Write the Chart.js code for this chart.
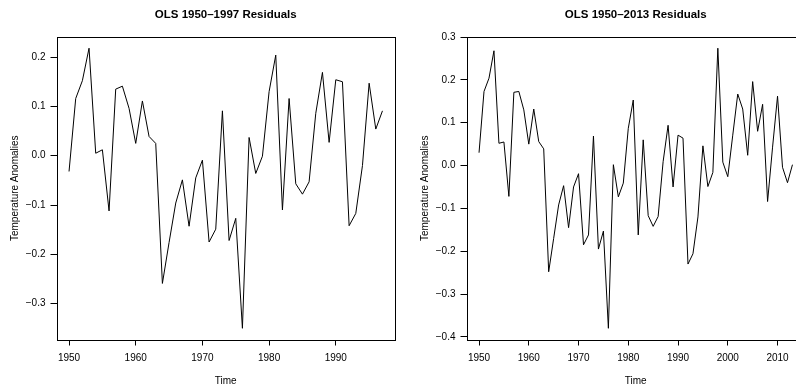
<!DOCTYPE html>
<html>
<head>
<meta charset="utf-8">
<script src="https://cdn.jsdelivr.net/npm/chart.js@4.4.1/dist/chart.umd.min.js"></script>
<style>
  html, body { margin: 0; padding: 0; background: #fff; overflow: hidden; width: 796px; height: 387px; }
  .panel { position: absolute; top: 0; width: 398px; height: 387px; }
  canvas { display: block; }
</style>
</head>
<body>
<div class="panel" style="left:0px"><canvas id="olsShort" width="398" height="387"></canvas></div>
<div class="panel" style="left:410px"><canvas id="olsLong" width="398" height="387"></canvas></div>
<script>
// Years covered by each regression
const yearsShort = [1950,1951,1952,1953,1954,1955,1956,1957,1958,1959,
  1960,1961,1962,1963,1964,1965,1966,1967,1968,1969,
  1970,1971,1972,1973,1974,1975,1976,1977,1978,1979,
  1980,1981,1982,1983,1984,1985,1986,1987,1988,1989,
  1990,1991,1992,1993,1994,1995,1996,1997];
const yearsLong = [1950,1951,1952,1953,1954,1955,1956,1957,1958,1959,
  1960,1961,1962,1963,1964,1965,1966,1967,1968,1969,
  1970,1971,1972,1973,1974,1975,1976,1977,1978,1979,
  1980,1981,1982,1983,1984,1985,1986,1987,1988,1989,
  1990,1991,1992,1993,1994,1995,1996,1997,1998,1999,
  2000,2001,2002,2003,2004,2005,2006,2007,2008,2009,
  2010,2011,2012,2013];

// OLS residuals, 1950-1997 fit
const residShort = [-0.032,0.116,0.152,0.218,0.005,0.012,-0.112,0.135,0.141,0.096,
  0.025,0.111,0.039,0.025,-0.259,-0.176,-0.096,-0.049,-0.143,-0.045,
  -0.009,-0.175,-0.149,0.091,-0.172,-0.127,-0.350,0.037,-0.036,-0.001,
  0.130,0.204,-0.110,0.116,-0.057,-0.078,-0.053,0.086,0.169,0.027,
  0.154,0.150,-0.142,-0.117,-0.020,0.147,0.054,0.091];

// OLS residuals, 1950-2013 fit
const residLong = [0.030,0.173,0.204,0.268,0.052,0.055,-0.072,0.171,0.173,0.130,
  0.050,0.132,0.056,0.039,-0.248,-0.170,-0.092,-0.047,-0.145,-0.050,
  -0.019,-0.185,-0.162,0.069,-0.195,-0.153,-0.380,0.002,-0.073,-0.041,
  0.087,0.153,-0.162,0.060,-0.117,-0.142,-0.119,0.009,0.094,-0.050,
  0.071,0.064,-0.230,-0.206,-0.120,0.046,-0.049,-0.016,0.274,0.008,
  -0.026,0.071,0.167,0.132,0.024,0.196,0.080,0.143,-0.084,0.043,
  0.162,-0.004,-0.040,0.002];

// Axis tick positions
const xTicksShort = [1950, 1960, 1970, 1980, 1990];
const yTicksShort = [-0.3, -0.2, -0.1, 0.0, 0.1, 0.2];
const xTicksLong = [1950, 1960, 1970, 1980, 1990, 2000, 2010];
const yTicksLong = [-0.4, -0.3, -0.2, -0.1, 0.0, 0.1, 0.2, 0.3];

Chart.defaults.font.family = '"Liberation Sans", Arial, Helvetica, sans-serif';
Chart.defaults.font.size = 10;
Chart.defaults.color = '#000';

// R-style axis range: data range padded by 4% on each side
function paddedRange(arr) {
  const lo = Math.min(...arr), hi = Math.max(...arr);
  const ext = (hi - lo) * 0.04;
  return [lo - ext, hi + ext];
}

function fmtNum(v) {
  const s = Math.abs(v).toFixed(1);
  return (v < -1e-9 ? '\u2212' : '') + s;
}

// Closed box around the plotting region
const framePlugin = {
  id: 'frame',
  afterDatasetsDraw(chart) {
    const { ctx, chartArea: a } = chart;
    ctx.save();
    ctx.strokeStyle = '#000';
    ctx.lineWidth = 1;
    ctx.strokeRect(Math.round(a.left) + 0.5, Math.round(a.top) + 0.5,
      Math.round(a.right) - Math.round(a.left), Math.round(a.bottom) - Math.round(a.top));
    ctx.restore();
  }
};

function residualChart(id, title, years, values, xTicks, yTicks) {
  const [xMin, xMax] = paddedRange(years);
  const [yMin, yMax] = paddedRange(values);
  const tickGrid = { drawOnChartArea: false, drawTicks: true, tickLength: 6, color: '#000', lineWidth: 1 };
  return new Chart(document.getElementById(id), {
    type: 'line',
    data: {
      datasets: [{
        data: years.map((yr, i) => ({ x: yr, y: values[i] })),
        borderColor: '#000',
        borderWidth: 1,
        pointRadius: 0,
        fill: false,
        tension: 0
      }]
    },
    options: {
      responsive: false,
      animation: false,
      devicePixelRatio: 1,
      layout: { padding: { left: 0, right: 3, top: 0, bottom: 0 } },
      plugins: {
        legend: { display: false },
        tooltip: { enabled: false },
        title: {
          display: true,
          text: title,
          fullSize: false,
          color: '#000',
          font: { size: 11.5, weight: 'bold', lineHeight: 1.2 },
          padding: { top: 8, bottom: 15.2 }
        }
      },
      scales: {
        x: {
          type: 'linear',
          min: xMin,
          max: xMax,
          afterBuildTicks: s => { s.ticks = xTicks.map(v => ({ value: v })); },
          afterFit: s => { s.height = 47.5; },
          grid: tickGrid,
          border: { display: false },
          ticks: { padding: 7, maxRotation: 0, minRotation: 0, autoSkip: false, callback: v => String(v) },
          title: { display: true, text: 'Time', padding: { top: 0, bottom: 0 } }
        },
        y: {
          type: 'linear',
          min: yMin,
          max: yMax,
          afterBuildTicks: s => { s.ticks = yTicks.map(v => ({ value: v })); },
          afterFit: s => { s.width = 56.5; },
          grid: tickGrid,
          border: { display: false },
          ticks: { padding: 5, autoSkip: false, callback: v => fmtNum(v) },
          title: { display: true, text: 'Temperature Anomalies', padding: { top: 9, bottom: 0 } }
        }
      }
    },
    plugins: [framePlugin]
  });
}

residualChart('olsShort', 'OLS 1950\u20131997 Residuals', yearsShort, residShort, xTicksShort, yTicksShort);
residualChart('olsLong', 'OLS 1950\u20132013 Residuals', yearsLong, residLong, xTicksLong, yTicksLong);
</script>
</body>
</html>
